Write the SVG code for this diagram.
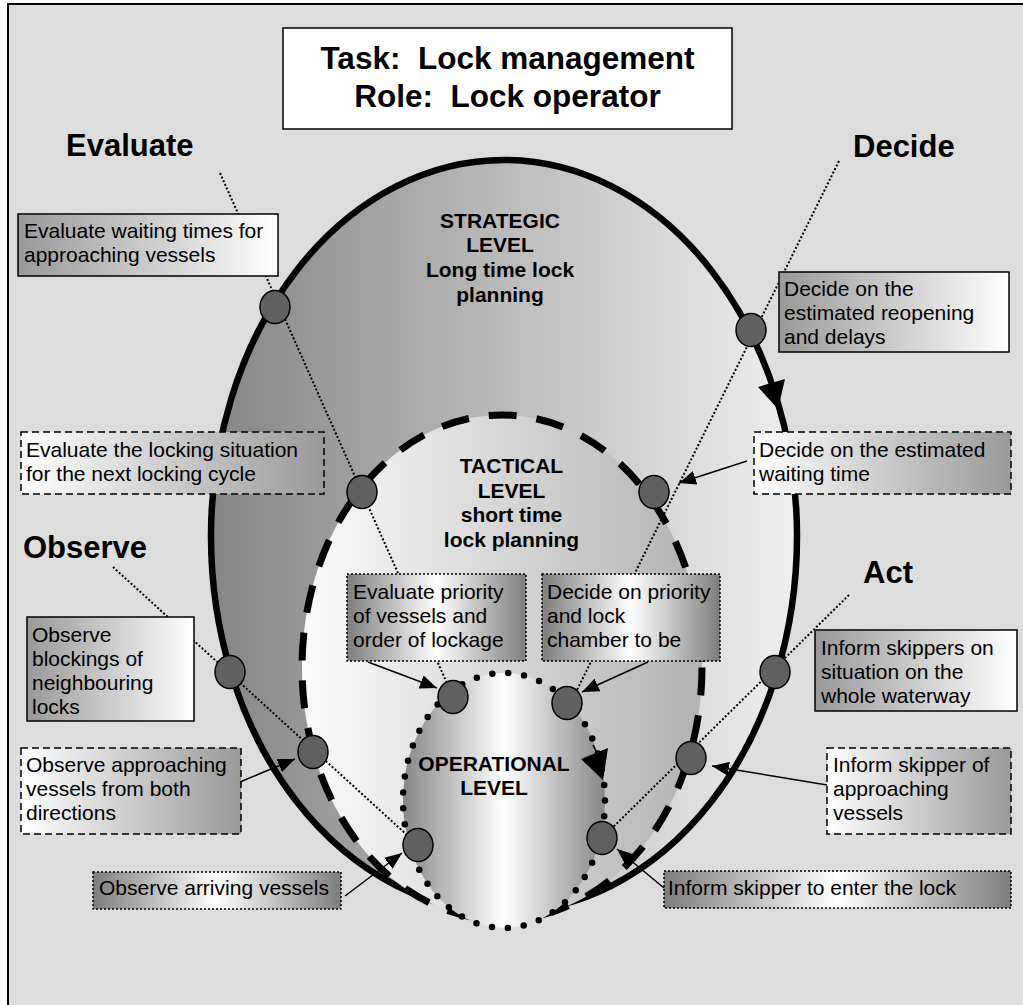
<svg xmlns="http://www.w3.org/2000/svg" width="1023" height="1005" viewBox="0 0 1023 1005">
<defs>
  <linearGradient id="gOuter" x1="0" y1="0" x2="1" y2="0">
    <stop offset="0" stop-color="#858585"/>
    <stop offset="1" stop-color="#f0f0f0"/>
  </linearGradient>
  <linearGradient id="gTact" x1="0" y1="0" x2="1" y2="0">
    <stop offset="0" stop-color="#fbfbfb"/>
    <stop offset="1" stop-color="#b2b2b2"/>
  </linearGradient>
  <linearGradient id="gOp" x1="0" y1="0" x2="1" y2="0">
    <stop offset="0" stop-color="#878787"/>
    <stop offset="0.5" stop-color="#ffffff"/>
    <stop offset="1" stop-color="#878787"/>
  </linearGradient>
  <linearGradient id="gGW" x1="0" y1="0" x2="1" y2="0">
    <stop offset="0" stop-color="#999999"/>
    <stop offset="1" stop-color="#ffffff"/>
  </linearGradient>
  <linearGradient id="gWG" x1="0" y1="0" x2="1" y2="0">
    <stop offset="0" stop-color="#ffffff"/>
    <stop offset="1" stop-color="#999999"/>
  </linearGradient>
  <linearGradient id="gGWG" x1="0" y1="0" x2="1" y2="0">
    <stop offset="0" stop-color="#7d7d7d"/>
    <stop offset="0.5" stop-color="#ffffff"/>
    <stop offset="1" stop-color="#7d7d7d"/>
  </linearGradient>
  <marker id="ah" markerUnits="userSpaceOnUse" markerWidth="18" markerHeight="14" refX="17" refY="7" orient="auto">
    <path d="M0,0 L17,7 L0,14 z" fill="#000"/>
  </marker>
</defs>
<style>
  .t{font-family:"Liberation Sans",Arial,sans-serif;font-size:21px;fill:#000}
  .lvl{font-family:"Liberation Sans",Arial,sans-serif;font-size:21px;font-weight:bold;text-anchor:middle;fill:#000}
  .phase{font-family:"Liberation Sans",Arial,sans-serif;font-size:31px;font-weight:bold;fill:#000}
  .title{font-family:"Liberation Sans",Arial,sans-serif;font-size:31.5px;font-weight:bold;text-anchor:middle;white-space:pre;fill:#000}
  .solid{stroke:#000;stroke-width:1.5}
  .dash{stroke:#000;stroke-width:1.5;stroke-dasharray:7 4}
  .dot{stroke:#000;stroke-width:1.5;stroke-dasharray:2 2}
  .node{fill:#606060;stroke:#000;stroke-width:1.5}
  .conn{stroke:#000;stroke-width:2;stroke-dasharray:2 2;fill:none}
  .arr{stroke:#000;stroke-width:1.5;fill:none;marker-end:url(#ah)}
</style>

<rect x="0" y="0" width="1023" height="1005" fill="#ffffff"/>
<rect x="8" y="4" width="1030" height="1010" fill="#dddddd" stroke="#000" stroke-width="2"/>

<g id="title">
  <rect x="283" y="28" width="449" height="101" fill="#ffffff" stroke="#000" stroke-width="1.5"/>
  <text class="title" x="507.5" y="69" xml:space="preserve">Task:  Lock management</text>
  <text class="title" x="507.5" y="107" xml:space="preserve">Role:  Lock operator</text>
</g>

<g id="strategic">
  <ellipse cx="504" cy="536" rx="293" ry="376" fill="url(#gOuter)" stroke="#000" stroke-width="6.5"/>
  <text class="lvl" x="500" y="228">STRATEGIC</text>
  <text class="lvl" x="500" y="252">LEVEL</text>
  <text class="lvl" x="500" y="277">Long time lock</text>
  <text class="lvl" x="500" y="302">planning</text>
</g>

<g id="tactical">
  <ellipse cx="502" cy="667.5" rx="200" ry="252.5" fill="url(#gTact)" stroke="#000" stroke-width="7" stroke-dasharray="28 20"/>
  <text class="lvl" x="511.5" y="473">TACTICAL</text>
  <text class="lvl" x="511.5" y="498">LEVEL</text>
  <text class="lvl" x="511.5" y="522">short time</text>
  <text class="lvl" x="511.5" y="547">lock planning</text>
</g>

<g id="operational">
  <ellipse cx="504" cy="800.5" rx="101" ry="127.5" fill="url(#gOp)" stroke="#000" stroke-width="6.5" stroke-dasharray="0 16" stroke-linecap="round"/>
  <text class="lvl" x="494" y="771">OPERATIONAL</text>
  <text class="lvl" x="494" y="795">LEVEL</text>
</g>

<g id="connectors">
  <line class="conn" x1="220" y1="173" x2="450" y2="690"/>
  <line class="conn" x1="839" y1="161" x2="575" y2="694"/>
  <line class="conn" x1="113" y1="567" x2="418" y2="845"/>
  <line class="conn" x1="849" y1="595" x2="602" y2="838"/>
  <polygon points="758,387 785,379 778,409" fill="#000"/>
  <line x1="593" y1="745" x2="597" y2="753" stroke="#000" stroke-width="1.5"/>
  <polygon points="581,759 608,748 603,780" fill="#000"/>
</g>

<g id="nodes">
  <ellipse id="n1" class="node" cx="275" cy="307" rx="15" ry="16.5"/>
  <ellipse id="n2" class="node" cx="751" cy="330" rx="15" ry="16.5"/>
  <ellipse id="n3" class="node" cx="362" cy="492" rx="15" ry="16.5"/>
  <ellipse id="n4" class="node" cx="654" cy="492" rx="15" ry="16.5"/>
  <ellipse id="n5" class="node" cx="230" cy="672" rx="15" ry="16.5"/>
  <ellipse id="n6" class="node" cx="313" cy="752" rx="15" ry="16.5"/>
  <ellipse id="n7" class="node" cx="453" cy="697" rx="15" ry="16.5"/>
  <ellipse id="n8" class="node" cx="567" cy="703" rx="15" ry="16.5"/>
  <ellipse id="n9" class="node" cx="418" cy="845" rx="15" ry="16.5"/>
  <ellipse id="n10" class="node" cx="602" cy="838" rx="15" ry="16.5"/>
  <ellipse id="n11" class="node" cx="775" cy="672" rx="15" ry="16.5"/>
  <ellipse id="n12" class="node" cx="691" cy="758" rx="15" ry="16.5"/>
</g>

<g id="phases">
  <text class="phase" x="66" y="156">Evaluate</text>
  <text class="phase" x="853" y="157">Decide</text>
  <text class="phase" x="23" y="558">Observe</text>
  <text class="phase" x="863" y="583">Act</text>
</g>

<g id="boxA">
  <rect class="solid" x="18" y="214" width="260" height="62" fill="url(#gGW)"/>
  <text class="t" x="24" y="238">Evaluate waiting times for</text>
  <text class="t" x="24" y="262">approaching vessels</text>
</g>
<g id="boxB">
  <rect class="solid" x="779" y="272" width="230" height="80" fill="url(#gGW)"/>
  <text class="t" x="784" y="296">Decide on the</text>
  <text class="t" x="784" y="320">estimated reopening</text>
  <text class="t" x="784" y="344">and delays</text>
</g>
<g id="boxC">
  <rect class="dash" x="21" y="432" width="303" height="62" fill="url(#gWG)"/>
  <text class="t" x="26" y="457">Evaluate the locking situation</text>
  <text class="t" x="26" y="481">for the next locking cycle</text>
</g>
<g id="boxD">
  <rect class="dash" x="754" y="432" width="257" height="62" fill="url(#gWG)"/>
  <text class="t" x="759" y="457">Decide on the estimated</text>
  <text class="t" x="759" y="481">waiting time</text>
</g>
<g id="boxE">
  <rect class="solid" x="27" y="617" width="167" height="104" fill="url(#gGW)"/>
  <text class="t" x="32" y="642">Observe</text>
  <text class="t" x="32" y="666">blockings of</text>
  <text class="t" x="32" y="690">neighbouring</text>
  <text class="t" x="32" y="714">locks</text>
</g>
<g id="boxF">
  <rect class="dash" x="21" y="748" width="220" height="86" fill="url(#gWG)"/>
  <text class="t" x="26" y="772">Observe approaching</text>
  <text class="t" x="26" y="796">vessels from both</text>
  <text class="t" x="26" y="820">directions</text>
</g>
<g id="boxG">
  <rect class="dot" x="93" y="872" width="248" height="37" fill="url(#gGWG)"/>
  <text class="t" x="99" y="895">Observe arriving vessels</text>
</g>
<g id="boxH">
  <rect class="dot" x="347" y="574" width="179" height="87" fill="url(#gGWG)"/>
  <text class="t" x="353" y="599">Evaluate priority</text>
  <text class="t" x="353" y="623">of vessels and</text>
  <text class="t" x="353" y="647">order of lockage</text>
</g>
<g id="boxI">
  <rect class="dot" x="542" y="574" width="178" height="87" fill="url(#gGWG)"/>
  <text class="t" x="547" y="599">Decide on priority</text>
  <text class="t" x="547" y="623">and lock</text>
  <text class="t" x="547" y="647">chamber to be</text>
</g>
<g id="boxJ">
  <rect class="solid" x="815" y="630" width="202" height="81" fill="url(#gGW)"/>
  <text class="t" x="821" y="655">Inform skippers on</text>
  <text class="t" x="821" y="679">situation on the</text>
  <text class="t" x="821" y="703">whole waterway</text>
</g>
<g id="boxK">
  <rect class="dash" x="827" y="748" width="184" height="86" fill="url(#gWG)"/>
  <text class="t" x="833" y="772">Inform skipper of</text>
  <text class="t" x="833" y="796">approaching</text>
  <text class="t" x="833" y="820">vessels</text>
</g>
<g id="boxL">
  <rect class="dot" x="664" y="871" width="347" height="37" fill="url(#gGWG)"/>
  <text class="t" x="668" y="895">Inform skipper to enter the lock</text>
</g>

<g id="arrows">
  <line class="arr" x1="747" y1="461" x2="679" y2="483"/>
  <line class="arr" x1="240" y1="782" x2="295" y2="759"/>
  <line class="arr" x1="345" y1="896" x2="402" y2="853"/>
  <line class="arr" x1="368" y1="662" x2="437" y2="688"/>
  <line class="arr" x1="648" y1="662" x2="582" y2="692"/>
  <line class="arr" x1="827" y1="785" x2="712" y2="766"/>
  <line class="arr" x1="664" y1="888" x2="617" y2="849"/>
</g>
</svg>
